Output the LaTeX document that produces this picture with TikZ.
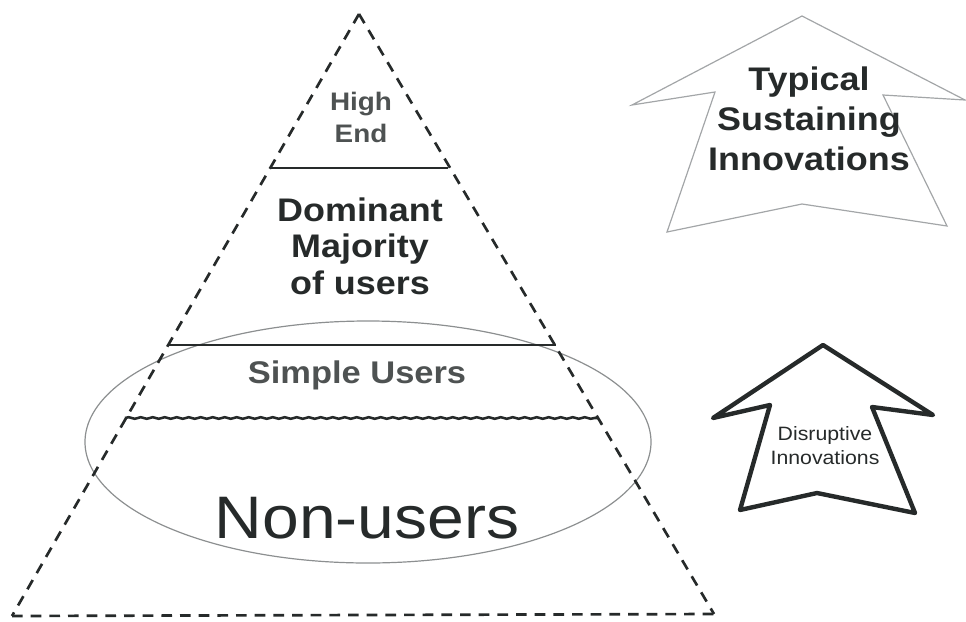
\documentclass[tikz,border=0pt]{standalone}
\usepackage{fontspec}
\setmainfont{Liberation Sans}[FakeStretch=1.1]
\usetikzlibrary{decorations.pathmorphing}
\definecolor{ink}{HTML}{262A2A}
\definecolor{softink}{HTML}{4E5252}
\definecolor{pencil}{HTML}{8C8F90}
\definecolor{faint}{HTML}{A3A6A8}
\tikzset{
  edge/.style={draw=ink, line width=2pt, dash pattern=on 8pt off 6pt},
  tier/.style={draw=ink, line width=1.9pt},
  label/.style={text=ink, align=center, inner sep=0pt},
}
\begin{document}
\begin{tikzpicture}[x=0.75pt, y=-0.75pt]
  \useasboundingbox (0,0) rectangle (966,621);

  % pyramid corners
  \coordinate (apex) at (359,14);
  \coordinate (bl) at (12,616);
  \coordinate (br) at (714,614);

  % tier boundaries on the pyramid edges
  \coordinate (t1l) at (271,168);  \coordinate (t1r) at (448,168);
  \coordinate (t2l) at (168,345);  \coordinate (t2r) at (556,345);
  \coordinate (t3l) at (125,418);  \coordinate (t3r) at (598,418);

  % ellipse around the lower tiers
  \draw[pencil, line width=0.9pt] (368,442) ellipse [x radius=283, y radius=121];

  % pyramid outline
  \draw[edge] (apex) -- (bl);
  \draw[edge] (apex) -- (br);
  \draw[edge] (bl) -- (br);

  % tier lines
  \draw[tier] (t1l) -- (t1r);
  \draw[tier] (t2l) -- (t2r);
  \draw[tier, decorate, decoration={snake, amplitude=0.6pt, segment length=9pt}] (t3l) -- (t3r);

  % tier labels
  \node[label, text=softink, font=\fontsize{19}{24}\selectfont\bfseries] (high) at (361,117) {High\\End};
  \node[label, font=\fontsize{24.5}{27.5}\selectfont\bfseries] (dominant) at (360,246) {Dominant\\Majority\\of users};
  \node[label, text=softink, font=\fontsize{23.5}{26}\selectfont\bfseries] (simple) at (357,375) {Simple Users};
  \node[label, font=\fontsize{45}{50}\selectfont] (nonusers) at (367,518) {Non-users};

  % sustaining innovations arrow (thin outline)
  \draw[faint, line width=0.9pt, line join=miter]
    (802,16) -- (965,100) -- (883,95) -- (947,226) -- (802,204)
    -- (667,232) -- (715,92) -- (632,105) -- cycle;
  \node[label, font=\fontsize{24.5}{30}\selectfont\bfseries] (sustaining) at (809,119) {Typical\\Sustaining\\Innovations};

  % disruptive innovations arrow (heavy outline)
  \draw[ink, line width=3.3pt, line join=round]
    (823,345) -- (933,415) -- (872,407) -- (915,513) -- (817,493)
    -- (740,510) -- (770,405) -- (713,418) -- cycle;
  \node[label, font=\fontsize{14.5}{18}\selectfont] (disruptive) at (825,446) {Disruptive\\Innovations};
\end{tikzpicture}
\end{document}
